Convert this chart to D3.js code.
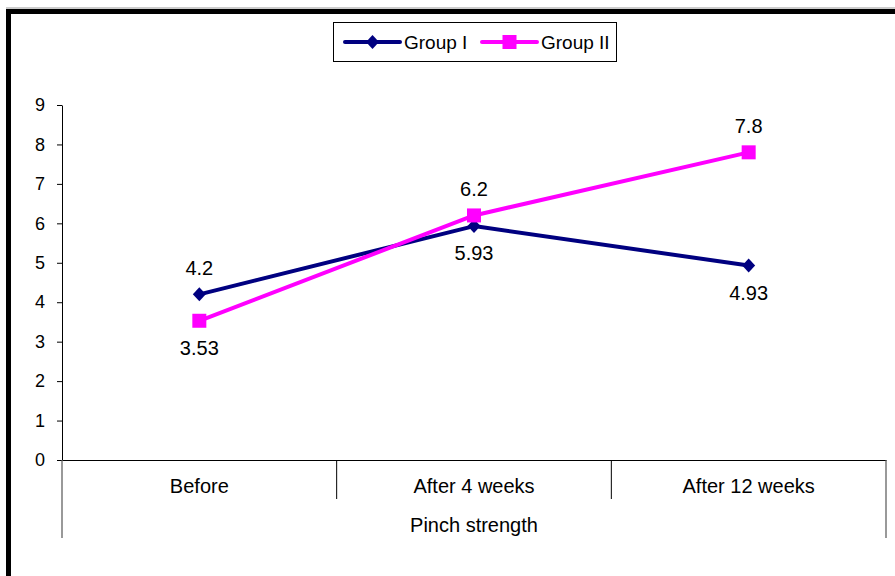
<!DOCTYPE html>
<html>
<head>
<meta charset="utf-8">
<script src="https://cdn.jsdelivr.net/npm/d3@7"></script>
<style>
  html, body { margin: 0; padding: 0; background: #fff; }
  svg { display: block; font-family: Arial, "Liberation Sans", sans-serif; }
</style>
</head>
<body>
<svg id="chart" width="895" height="576"></svg>
<script>
// Pinch strength over time, two groups
const categories = ["Before", "After 4 weeks", "After 12 weeks"];
const groupI = [4.2, 5.93, 4.93];
const groupII = [3.53, 6.2, 7.8];
const seriesNames = ["Group I", "Group II"];
const yTicks = [0, 1, 2, 3, 4, 5, 6, 7, 8, 9];
const axisTitle = "Pinch strength";

const navy = "#000080";
const magenta = "#ff00ff";

const svg = d3.select("#chart");

// outer frame
svg.append("line").attr("x1", 6).attr("x2", 895).attr("y1", 8).attr("y2", 8)
  .attr("stroke", "#999").attr("stroke-width", 1);
svg.append("rect").attr("x", 8.5).attr("y", 11.5).attr("width", 900).attr("height", 600)
  .attr("fill", "none").attr("stroke", "#000").attr("stroke-width", 5);

const plot = { left: 62, right: 886, top: 105, bottom: 460 };

const x = d3.scaleBand().domain(categories).range([plot.left, plot.right]).padding(0);
const y = d3.scaleLinear().domain([0, 9]).range([plot.bottom, plot.top]);

// y axis
const yAxis = svg.append("g").attr("transform", `translate(${plot.left},0)`)
  .call(d3.axisLeft(y).tickValues(yTicks).tickSize(5).tickPadding(12).tickSizeOuter(0));
yAxis.select(".domain").attr("stroke", "#000");
yAxis.selectAll(".tick line").attr("stroke", "#000");
yAxis.selectAll(".tick text").attr("font-size", 18).attr("fill", "#000")
  .attr("font-family", "Arial, 'Liberation Sans', sans-serif");

// category axis with grouping lines
const xAxis = svg.append("g").attr("transform", `translate(0,${plot.bottom})`)
  .call(d3.axisBottom(x).tickSize(0).tickPadding(0).tickSizeOuter(0));
xAxis.select(".domain").attr("stroke", "#000");
xAxis.selectAll(".tick text").attr("font-size", 20).attr("fill", "#000")
  .attr("dy", "0").attr("y", 33)
  .attr("font-family", "Arial, 'Liberation Sans', sans-serif");

// separators between categories
svg.append("g").selectAll("line").data(categories.slice(1)).join("line")
  .attr("x1", d => x(d)).attr("x2", d => x(d))
  .attr("y1", plot.bottom).attr("y2", 499)
  .attr("stroke", "#000").attr("stroke-width", 1);
// outer lines of the axis-title row
svg.append("g").selectAll("line").data([plot.left, plot.right]).join("line")
  .attr("x1", d => d).attr("x2", d => d)
  .attr("y1", plot.bottom).attr("y2", 538)
  .attr("stroke", "#555").attr("stroke-width", 1.2);

svg.append("text").attr("x", (plot.left + plot.right) / 2).attr("y", 532)
  .attr("text-anchor", "middle").attr("font-size", 20).attr("fill", "#000")
  .text(axisTitle);

// series
const cx = c => x(c) + x.bandwidth() / 2;
const line = d3.line().x((d, i) => cx(categories[i])).y(d => y(d));

// diamond marker, about as wide as it is tall
const diamondPath = "M0,-7L6.5,0L0,7L-6.5,0Z";

function drawSeries(values, color, marker, other) {
  const g = svg.append("g");
  g.append("path").datum(values).attr("d", line)
    .attr("fill", "none").attr("stroke", color).attr("stroke-width", 4)
    .attr("stroke-linejoin", "round");
  if (marker === "diamond") {
    g.selectAll("path.m").data(values).join("path").attr("class", "m")
      .attr("d", diamondPath)
      .attr("transform", (d, i) => `translate(${cx(categories[i])},${y(d)})`)
      .attr("fill", color);
  } else {
    g.selectAll("rect.m").data(values).join("rect").attr("class", "m")
      .attr("x", (d, i) => cx(categories[i]) - 7).attr("y", d => y(d) - 7)
      .attr("width", 14).attr("height", 14).attr("fill", color);
  }
  // value labels: above when this series is the higher one, else below
  g.selectAll("text").data(values).join("text")
    .attr("x", (d, i) => cx(categories[i]))
    .attr("y", (d, i) => d >= other[i] ? y(d) - 19 : y(d) + 34)
    .attr("text-anchor", "middle").attr("font-size", 20).attr("fill", "#000")
    .text(d => d);
}

drawSeries(groupI, navy, "diamond", groupII);
drawSeries(groupII, magenta, "square", groupI);

// legend
const lg = svg.append("g");
lg.append("rect").attr("x", 333.5).attr("y", 22.5).attr("width", 283).attr("height", 39)
  .attr("fill", "#fff").attr("stroke", "#000").attr("stroke-width", 1);
const legendItems = [
  { name: seriesNames[0], color: navy, marker: "diamond", x0: 345 },
  { name: seriesNames[1], color: magenta, marker: "square", x0: 482 }
];
legendItems.forEach(it => {
  lg.append("line").attr("x1", it.x0).attr("x2", it.x0 + 55).attr("y1", 42).attr("y2", 42)
    .attr("stroke", it.color).attr("stroke-width", 4).attr("stroke-linecap", "round");
  if (it.marker === "diamond") {
    lg.append("path").attr("d", diamondPath).attr("transform", `translate(${it.x0 + 27.5},42)`)
      .attr("fill", it.color);
  } else {
    lg.append("rect").attr("x", it.x0 + 27.5 - 7).attr("y", 35).attr("width", 14).attr("height", 14)
      .attr("fill", it.color);
  }
  lg.append("text").attr("x", it.x0 + 59).attr("y", 49).attr("font-size", 19).attr("fill", "#000")
    .text(it.name);
});
</script>
</body>
</html>
